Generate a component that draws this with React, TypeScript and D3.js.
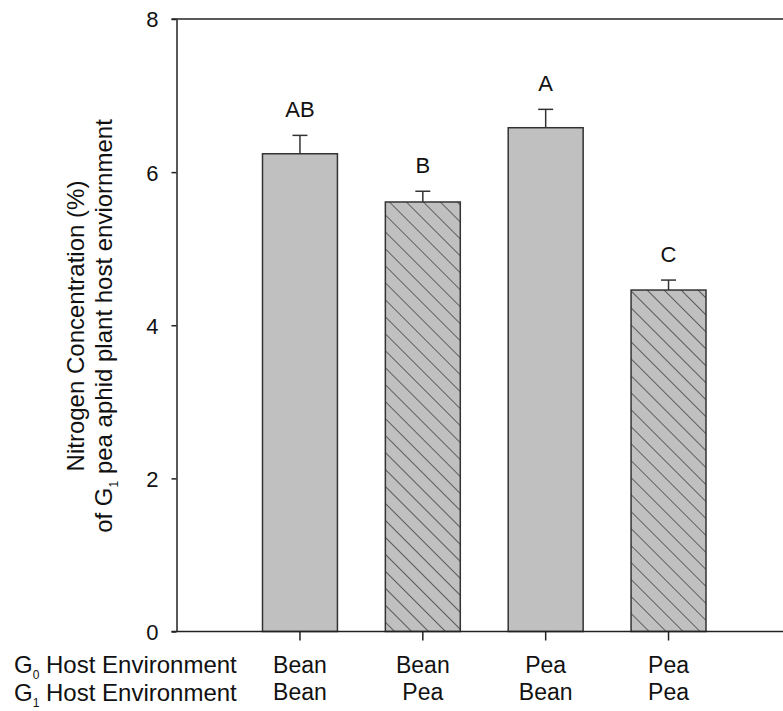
import React, { useEffect, useRef } from "react";
import * as d3 from "d3";

/* DATA */
const g0Env = ["Bean", "Bean", "Pea", "Pea"];
const g1Env = ["Bean", "Pea", "Bean", "Pea"];
const nitrogen = [6.24, 5.61, 6.58, 4.46];
const stdErr = [0.24, 0.14, 0.24, 0.13];
const letters = ["AB", "B", "A", "C"];
const hatched = [false, true, false, true];
const yTicks = [0, 2, 4, 6, 8];

const FONT = "'Liberation Sans', Arial, sans-serif";

function NitrogenChart() {
  const chartRef = useRef(null);

  useEffect(() => {
    const svg = d3.select(chartRef.current);
    svg.selectAll("*").remove();

    const width = 783;
    const plot = { left: 176.5, top: 19, bottom: 631.5, right: 792 };

    const y = d3.scaleLinear().domain([0, 8]).range([plot.bottom, plot.top]);

    const x = d3
      .scaleBand()
      .domain(d3.range(nitrogen.length) as any)
      .range([plot.left, plot.right])
      .paddingInner(0.39)
      .paddingOuter(0.7);

    const cx = (i: any) => (x(i) as any) + x.bandwidth() / 2;

    // hatch pattern
    const hs = 12;
    const defs = svg.append("defs");
    const pat = defs
      .append("pattern")
      .attr("id", "hatch")
      .attr("patternUnits", "userSpaceOnUse")
      .attr("width", hs)
      .attr("height", hs)
      .attr("patternTransform", "rotate(-45)");
    pat.append("rect").attr("width", hs).attr("height", hs).attr("fill", "#c0c0c0");
    pat
      .append("line")
      .attr("x1", 0)
      .attr("y1", 0)
      .attr("x2", 0)
      .attr("y2", hs)
      .attr("stroke", "#333")
      .attr("stroke-width", 1.4);

    // bars
    svg
      .append("g")
      .selectAll("rect")
      .data(nitrogen)
      .enter()
      .append("rect")
      .attr("x", (d, i: any) => x(i) as any)
      .attr("y", (d) => y(d))
      .attr("width", x.bandwidth())
      .attr("height", (d) => y(0) - y(d))
      .attr("fill", (d, i) => (hatched[i] ? "url(#hatch)" : "#c0c0c0"))
      .attr("stroke", "#333")
      .attr("stroke-width", 1.5);

    // error bars (upper only)
    const err = svg.append("g").attr("stroke", "#333").attr("stroke-width", 1.5);
    nitrogen.forEach((d, i) => {
      err
        .append("line")
        .attr("x1", cx(i))
        .attr("x2", cx(i))
        .attr("y1", y(d))
        .attr("y2", y(d + stdErr[i]));
      err
        .append("line")
        .attr("x1", cx(i) - 7.5)
        .attr("x2", cx(i) + 7.5)
        .attr("y1", y(d + stdErr[i]))
        .attr("y2", y(d + stdErr[i]));
    });

    // significance letters
    svg
      .append("g")
      .selectAll("text")
      .data(letters)
      .enter()
      .append("text")
      .attr("x", (d, i) => cx(i))
      .attr("y", (d, i) => y(nitrogen[i] + stdErr[i]) - 18)
      .attr("text-anchor", "middle")
      .attr("font-family", FONT)
      .attr("font-size", 22)
      .attr("fill", "#111")
      .text((d) => d);

    // frame lines
    svg
      .append("line")
      .attr("x1", plot.left - 5)
      .attr("x2", width)
      .attr("y1", plot.top)
      .attr("y2", plot.top)
      .attr("stroke", "#222")
      .attr("stroke-width", 1.5);
    svg
      .append("line")
      .attr("x1", plot.left - 5)
      .attr("x2", width)
      .attr("y1", plot.bottom)
      .attr("y2", plot.bottom)
      .attr("stroke", "#222")
      .attr("stroke-width", 1.5);

    // y axis
    const yAxis = svg
      .append("g")
      .attr("transform", "translate(" + plot.left + ",0)")
      .call(d3.axisLeft(y).tickValues(yTicks).tickSize(5).tickSizeOuter(0).tickPadding(13));
    yAxis.select(".domain").attr("stroke", "#222").attr("stroke-width", 1.5);
    yAxis.selectAll(".tick line").attr("stroke", "#222").attr("stroke-width", 1.5);
    yAxis
      .selectAll(".tick text")
      .attr("font-family", FONT)
      .attr("font-size", 22)
      .attr("fill", "#111")
      .attr("dy", "0.36em");

    // x ticks
    svg
      .append("g")
      .selectAll("line")
      .data(nitrogen)
      .enter()
      .append("line")
      .attr("x1", (d, i) => cx(i))
      .attr("x2", (d, i) => cx(i))
      .attr("y1", plot.bottom)
      .attr("y2", plot.bottom + 9)
      .attr("stroke", "#222")
      .attr("stroke-width", 1.5);

    // category labels
    const catRows = [g0Env, g1Env];
    catRows.forEach((row, r) => {
      svg
        .append("g")
        .selectAll("text")
        .data(row)
        .enter()
        .append("text")
        .attr("x", (d, i) => cx(i))
        .attr("y", 673 + r * 26.5)
        .attr("text-anchor", "middle")
        .attr("font-family", FONT)
        .attr("font-size", 23)
        .attr("fill", "#111")
        .text((d) => d);

      const lab = svg
        .append("text")
        .attr("x", 14)
        .attr("y", 673 + r * 28)
        .attr("font-family", FONT)
        .attr("font-size", 24)
        .attr("fill", "#111");
      lab.append("tspan").text("G");
      lab.append("tspan").attr("font-size", 12).attr("dy", 6).text(String(r));
      lab.append("tspan").attr("dy", -6).text(" Host Environment");
    });

    // y title
    svg
      .append("text")
      .attr("transform", "translate(84,326) rotate(-90)")
      .attr("text-anchor", "middle")
      .attr("font-family", FONT)
      .attr("font-size", 24)
      .attr("fill", "#111")
      .text("Nitrogen Concentration (%)");
    const t2 = svg
      .append("text")
      .attr("transform", "translate(112,326) rotate(-90)")
      .attr("text-anchor", "middle")
      .attr("font-family", FONT)
      .attr("font-size", 24)
      .attr("fill", "#111");
    t2.append("tspan").text("of G");
    t2.append("tspan").attr("font-size", 12).attr("dy", 6).text("1");
    t2.append("tspan").attr("dy", -6).text(" pea aphid plant host enviornment");
  }, []);

  return (
    <svg
      ref={chartRef}
      width={783}
      height={711}
      style={{ position: "absolute", left: 0, top: 0, background: "#fff" }}
    />
  );
}

export default function App() {
  return <NitrogenChart />;
}
